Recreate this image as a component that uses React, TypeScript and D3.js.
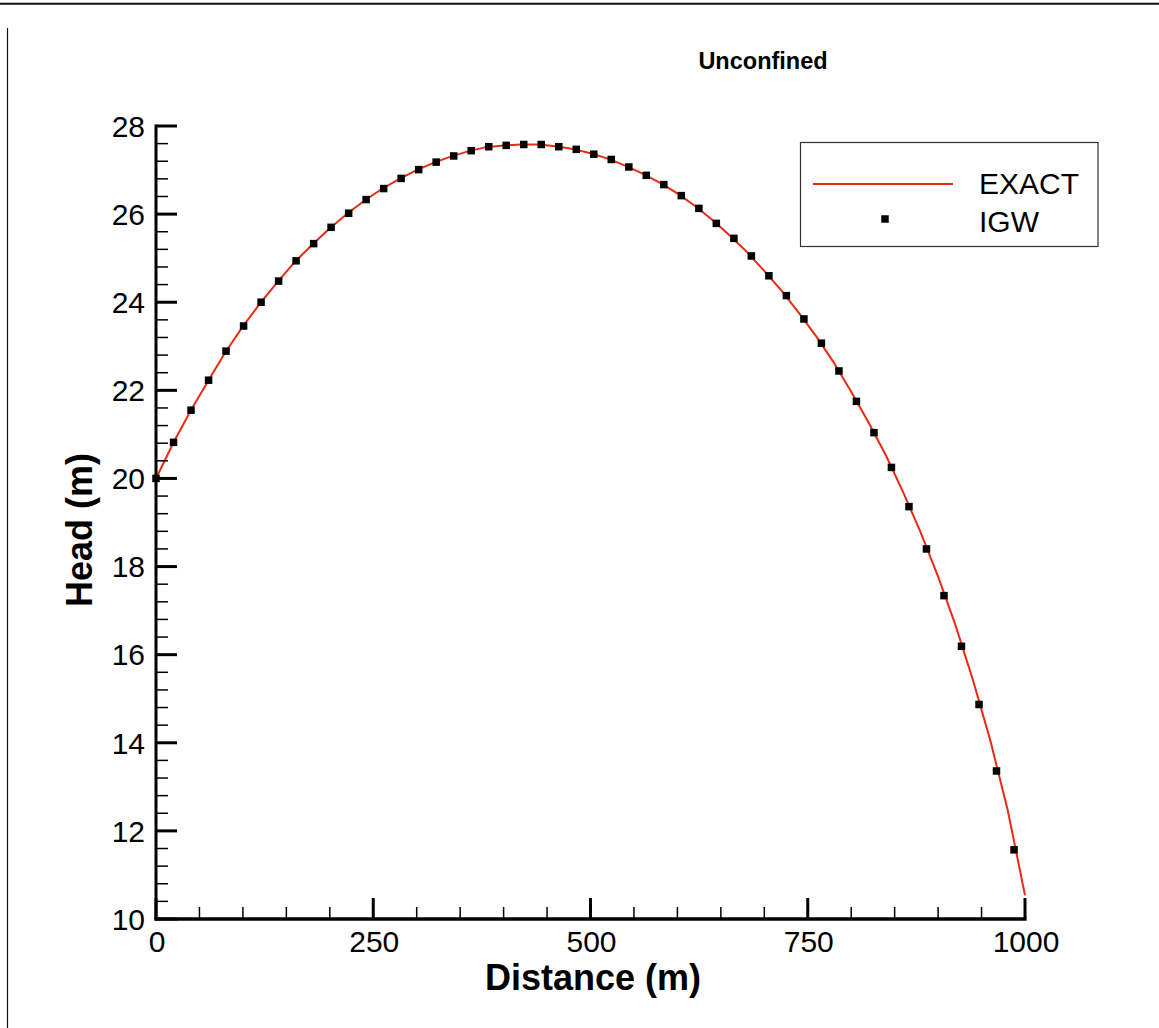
import React from "react";
import * as d3 from "d3";

const TITLE = "Unconfined";
const X_LABEL = "Distance (m)";
const Y_LABEL = "Head (m)";

const xMajorTicks = [0, 250, 500, 750, 1000];
const yMajorTicks = [10, 12, 14, 16, 18, 20, 22, 24, 26, 28];

// IGW simulated heads
const igwX = [
  0, 20.2, 40.3, 60.5, 80.6, 100.8, 120.9, 141.1, 161.2, 181.4,
  201.5, 221.7, 241.8, 262.0, 282.1, 302.3, 322.4, 342.6, 362.7, 382.9,
  403.0, 423.2, 443.3, 463.5, 483.6, 503.8, 523.9, 544.1, 564.2, 584.4,
  604.5, 624.7, 644.8, 665.0, 685.1, 705.3, 725.4, 745.6, 765.7, 785.9,
  806.0, 826.2, 846.3, 866.5, 886.6, 906.8, 926.9, 947.1, 967.2, 987.4,
];
const igwH = [
  20.0, 20.82, 21.55, 22.23, 22.89, 23.46, 24.0, 24.48, 24.94, 25.33,
  25.7, 26.02, 26.33, 26.58, 26.81, 27.01, 27.18, 27.32, 27.44, 27.53,
  27.56, 27.58, 27.58, 27.53, 27.47, 27.36, 27.24, 27.07, 26.88, 26.67,
  26.42, 26.13, 25.79, 25.45, 25.05, 24.6, 24.15, 23.62, 23.07, 22.44,
  21.75, 21.04, 20.25, 19.36, 18.4, 17.34, 16.19, 14.87, 13.36, 11.57,
];

// EXACT solution curve
const exactX = [
  0, 20, 40, 60, 80, 100, 120, 140, 160, 180,
  200, 220, 240, 260, 280, 300, 320, 340, 360, 380,
  400, 420, 440, 460, 480, 500, 520, 540, 560, 580,
  600, 620, 640, 660, 680, 700, 720, 740, 760, 780,
  800, 820, 840, 860, 880, 900, 920, 940, 960, 980, 1000,
];
const exactH = [
  20.0, 20.81, 21.54, 22.21, 22.87, 23.45, 23.98, 24.46, 24.92, 25.31,
  25.68, 26.01, 26.31, 26.57, 26.8, 27.0, 27.17, 27.31, 27.43, 27.52,
  27.56, 27.58, 27.58, 27.54, 27.48, 27.38, 27.26, 27.1, 26.92, 26.71,
  26.47, 26.19, 25.87, 25.52, 25.14, 24.71, 24.26, 23.75, 23.22, 22.63,
  21.97, 21.27, 20.52, 19.68, 18.77, 17.77, 16.67, 15.43, 14.06, 12.48, 10.54,
];

const W = 1159;
const H = 1028;
const FONT = "'Liberation Sans', Arial, Helvetica, sans-serif";
const RED = "#ea2a12";

export default function App() {
  const x = d3.scaleLinear().domain([0, 1000]).range([156, 1025]);
  const y = d3.scaleLinear().domain([10, 28]).range([919, 126]);

  const xMinor = d3.range(0, 1000.001, 50).filter((v) => !xMajorTicks.includes(v));
  const yMinor = d3
    .range(10, 28.001, 0.4)
    .map((v) => Math.round(v * 10) / 10)
    .filter((v) => !yMajorTicks.includes(v));

  const exactData = exactX.map((v, i) => [v, exactH[i]] as [number, number]);
  const line = d3
    .line<[number, number]>()
    .x((d) => x(d[0]))
    .y((d) => y(d[1]))
    .curve(d3.curveLinear);

  const ms = 7.5;

  return (
    <svg
      width={W}
      height={H}
      style={{ position: "absolute", left: 0, top: 0, background: "#fff" }}
      fontFamily={FONT}
    >
      <rect x={0} y={0} width={W} height={H} fill="#fff" />
      {/* frame lines */}
      <line x1={0} x2={W} y1={3.8} y2={3.8} stroke="#111" strokeWidth={2} />
      <line x1={7.5} x2={7.5} y1={28} y2={H} stroke="#111" strokeWidth={1.2} />

      {/* title */}
      <text x={763} y={69} textAnchor="middle" fontSize={23.5} fontWeight="bold" fill="#000">
        {TITLE}
      </text>

      {/* curve */}
      <path d={line(exactData) || ""} fill="none" stroke={RED} strokeWidth={2} />

      {/* IGW markers */}
      {igwX.map((v, i) => (
        <rect
          key={i}
          x={x(v) - ms / 2}
          y={y(igwH[i]) - ms / 2}
          width={ms}
          height={ms}
          fill="#000"
        />
      ))}

      {/* axes */}
      <line x1={x(0)} x2={x(0)} y1={y(28) - 1.5} y2={y(10) + 1.5} stroke="#000" strokeWidth={3} />
      <line x1={x(0) - 1.5} x2={x(1000) + 1.5} y1={y(10)} y2={y(10)} stroke="#000" strokeWidth={3.5} />

      {yMajorTicks.map((t) => (
        <g key={"ym" + t}>
          <line x1={x(0)} x2={x(0) + 21} y1={y(t)} y2={y(t)} stroke="#000" strokeWidth={3} />
          <text
            x={145}
            y={y(t)}
            dy="0.36em"
            textAnchor="end"
            fontSize={30}
            fill="#000"
          >
            {t}
          </text>
        </g>
      ))}
      {yMinor.map((t) => (
        <line key={"yn" + t} x1={x(0)} x2={x(0) + 12} y1={y(t)} y2={y(t)} stroke="#000" strokeWidth={1.5} />
      ))}

      {xMajorTicks.map((t) => (
        <g key={"xm" + t}>
          <line x1={x(t)} x2={x(t)} y1={y(10)} y2={y(10) - 21} stroke="#000" strokeWidth={3} />
          <text x={x(t) + 1} y={952} textAnchor="middle" fontSize={30} fill="#000">
            {t}
          </text>
        </g>
      ))}
      {xMinor.map((t) => (
        <line key={"xn" + t} x1={x(t)} x2={x(t)} y1={y(10)} y2={y(10) - 12} stroke="#000" strokeWidth={1.5} />
      ))}

      {/* axis titles */}
      <text x={593} y={990} textAnchor="middle" fontSize={36} fontWeight="bold" fill="#000">
        {X_LABEL}
      </text>
      <text
        transform={`translate(92, 530) rotate(-90)`}
        textAnchor="middle"
        fontSize={36}
        fontWeight="bold"
        fill="#000"
      >
        {Y_LABEL}
      </text>

      {/* legend */}
      <rect x={800.5} y={142.5} width={297.5} height={104} fill="#fff" stroke="#333" strokeWidth={1.2} />
      <line x1={813} x2={953} y1={184} y2={184} stroke={RED} strokeWidth={2} />
      <text x={979} y={194} fontSize={30} fill="#000">
        EXACT
      </text>
      <rect x={885 - ms / 2} y={219 - ms / 2} width={ms} height={ms} fill="#000" />
      <text x={979} y={231.5} fontSize={30} fill="#000">
        IGW
      </text>
    </svg>
  );
}
